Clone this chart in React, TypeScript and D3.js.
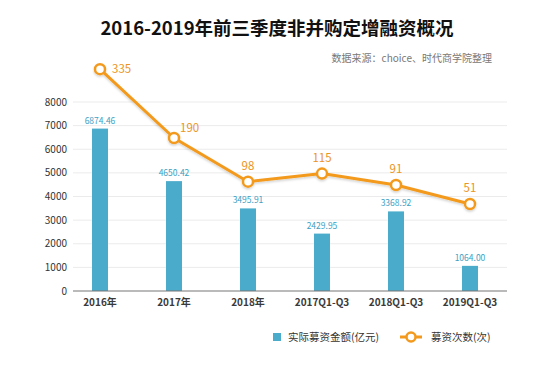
import React from "react";
import * as d3 from "d3";

const categories = ["2016年", "2017年", "2018年", "2017Q1-Q3", "2018Q1-Q3", "2019Q1-Q3"];
const amounts = [6874.46, 4650.42, 3495.91, 2429.95, 3368.92, 1064.0];
const counts = [335, 190, 98, 115, 91, 51];
const yTicks = [0, 1000, 2000, 3000, 4000, 5000, 6000, 7000, 8000];

const W = 554;
const H = 382;
const FONT = "'Noto Sans CJK SC', 'Noto Sans', sans-serif";
const BLUE = "#4aabcb";
const ORANGE = "#f39a1e";
const ORANGE_TXT = "#ec9423";

export default function App() {
  const x = d3.scaleBand<string>().domain(categories).range([63, 507]).paddingInner(0).paddingOuter(0);
  const y = d3.scaleLinear().domain([0, 8000]).range([291, 102]);
  const y2 = d3.scaleLinear().domain([0, 400]).range([228.2, 38.3]);
  const cx = (c: string) => (x(c) as number) + x.bandwidth() / 2;
  const barW = 16;
  const line = d3
    .line<number>()
    .x((_, i) => cx(categories[i]))
    .y((d) => y2(d));

  const labelOffset = (i: number): [number, number, string] => {
    if (i === 0) return [12, 4, "start"];
    if (i === 1) return [6, -6, "start"];
    return [0, -12, "middle"];
  };

  return (
    <svg width={W} height={H} style={{ position: "absolute", left: 0, top: 0, background: "#fff" }} fontFamily={FONT}>
      <defs>
        <filter id="sh" x="-10%" y="-10%" width="120%" height="130%">
          <feDropShadow dx="0" dy="1.5" stdDeviation="1.2" floodColor="#000" floodOpacity="0.18" />
        </filter>
      </defs>
      <rect width={W} height={H} fill="#fff" />
      <text x={277} y={35} textAnchor="middle" fontSize={18.5} fontWeight="bold" fill="#111">
        2016-2019年前三季度非并购定增融资概况
      </text>
      <text x={492} y={62} textAnchor="end" fontSize={10} fill="#777">
        数据来源：choice、时代商学院整理
      </text>
      {yTicks.map((t) => (
        <g key={t}>
          {t > 0 && <line x1={73} x2={507} y1={y(t)} y2={y(t)} stroke="#ebebeb" strokeWidth={1} />}
          <text x={67} y={y(t) + 3.5} textAnchor="end" fontSize={10} fill="#333">
            {t}
          </text>
        </g>
      ))}
      {categories.map((c, i) => (
        <g key={c}>
          <rect x={cx(c) - barW / 2} y={y(amounts[i])} width={barW} height={y(0) - y(amounts[i])} fill={BLUE} />
          <text x={cx(c)} y={y(amounts[i]) - 5} textAnchor="middle" fontSize={8.5} fill="#3ea0c4">
            {amounts[i].toFixed(2)}
          </text>
          <text x={cx(c)} y={305.5} textAnchor="middle" fontSize={10} fontWeight="bold" fill="#3a3a3a">
            {c}
          </text>
        </g>
      ))}
      <line x1={73} x2={507} y1={y(0)} y2={y(0)} stroke="#777" strokeWidth={1.2} />
      <g filter="url(#sh)">
        <path d={line(counts) || ""} fill="none" stroke={ORANGE} strokeWidth={3} strokeLinejoin="round" />
        {counts.map((v, i) => (
          <circle key={i} cx={cx(categories[i])} cy={y2(v)} r={5} fill="#fff" stroke={ORANGE} strokeWidth={2.5} />
        ))}
      </g>
      {counts.map((v, i) => {
        const px = cx(categories[i]);
        const py = y2(v);
        const [dx, dy, anchor] = labelOffset(i);
        return (
          <text key={i} x={px + dx} y={py + dy} textAnchor={anchor as any} fontSize={11.5} fill={ORANGE_TXT}>
            {v}
          </text>
        );
      })}
      <g>
        <rect x={273} y={333} width={8} height={8} fill={BLUE} />
        <text x={288} y={341} fontSize={10.5} fill="#333">
          实际募资金额(亿元)
        </text>
        <line x1={400} x2={422} y1={337} y2={337} stroke={ORANGE} strokeWidth={3} />
        <circle cx={411} cy={337} r={4.5} fill="#fff" stroke={ORANGE} strokeWidth={2.5} />
        <text x={431} y={340.5} fontSize={10.5} fill="#333">
          募资次数(次)
        </text>
      </g>
    </svg>
  );
}
